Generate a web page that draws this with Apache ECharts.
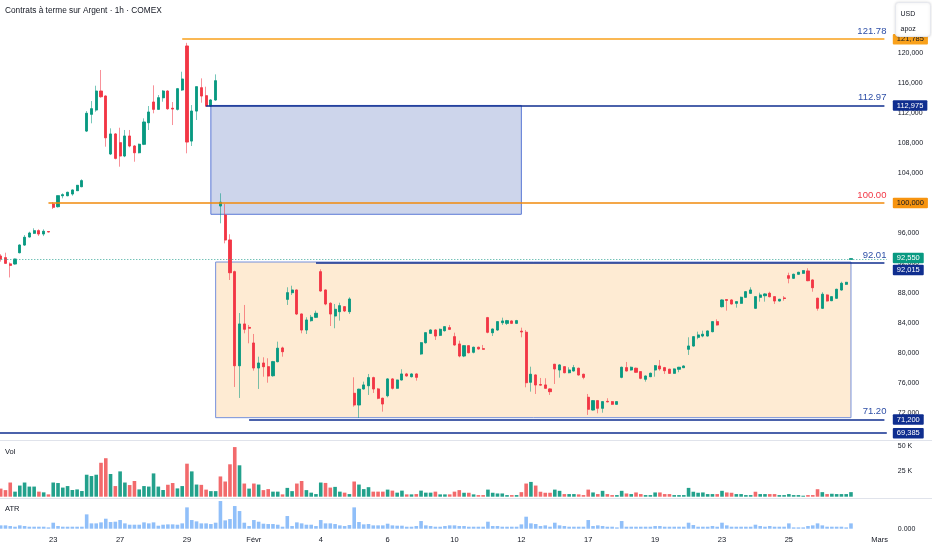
<!DOCTYPE html>
<html><head><meta charset="utf-8">
<script src="https://cdn.jsdelivr.net/npm/echarts@6/dist/echarts.min.js"></script>
<style>html,body{margin:0;padding:0;background:#fff}#c{width:932px;height:550px}</style>
</head><body><div id="c"></div>
<script>
// ---- candles (O,H,L,C) ----
const opens = [
92.95,92.73,91.9,91.89,93.39,94.41,95.48,95.97,96.32,95.88,
96.2,99.87,99.51,100.97,100.97,101.2,101.64,102.17,109.57,111.8,
112.37,114.89,114.23,106.52,109.18,108.02,106.25,108.91,107.58,106.69,
107.81,110.68,113.43,112.46,114.0,114.89,112.6,112.46,115.03,120.88,
108.24,112.23,115.33,114.27,112.9,113.7,99.6,98.4,95.08,90.86,
78.36,83.91,83.45,81.38,78.06,78.72,78.23,77.03,78.9,80.72,
87.19,88.07,88.43,85.24,83.11,84.35,84.8,90.86,88.43,86.66,
84.97,85.55,86.21,85.55,74.69,73.14,75.27,75.7,76.77,75.27,
74.03,74.37,76.6,75.36,76.46,77.26,76.9,77.26,79.92,81.42,
82.67,83.11,82.4,83.02,83.42,82.22,81.25,79.65,81.02,80.15,
80.81,80.62,84.75,82.75,83.11,84.08,84.0,84.31,84.0,82.95,
82.81,76.16,77.13,75.85,75.8,75.27,78.55,77.79,78.23,77.43,
77.66,78.02,77.22,74.16,72.47,73.71,72.7,73.62,73.58,73.23,
76.82,78.1,77.79,78.02,77.57,76.56,76.9,77.79,78.32,78.1,
77.89,77.35,77.89,78.1,80.55,80.98,82.14,82.31,82.31,82.89,
84.22,86.21,87.15,87.1,86.66,86.66,87.46,87.99,86.0,87.46,
87.67,87.99,87.54,86.97,87.37,90.33,89.99,90.52,90.65,90.96,
89.76,87.33,86.0,87.77,87.01,87.33,88.43,89.19,92.5];
const highs = [
93.2,93.39,92.1,92.6,94.5,95.74,96.18,96.64,96.5,96.5,
96.25,100.13,101.0,101.29,101.5,101.8,102.4,103.15,112.23,113.56,
115.6,117.69,114.3,109.93,109.3,110.01,109.71,109.71,107.7,107.9,
111.26,112.9,115.65,114.36,115.03,115.0,113.43,115.3,117.46,121.3,
113.03,115.5,116.58,115.47,113.8,117.11,101.29,99.87,95.84,91.0,
85.37,86.44,83.78,82.58,79.56,79.48,79.35,79.0,81.56,80.89,
88.79,89.0,88.5,85.3,84.8,85.11,85.68,91.18,88.5,86.8,
86.57,86.74,86.3,87.46,76.82,75.3,76.24,77.26,76.9,75.4,
74.1,76.7,76.7,76.5,77.89,77.4,77.35,77.35,81.5,82.8,
83.2,83.2,83.3,83.6,83.78,82.75,81.69,81.1,81.1,80.9,
80.9,81.12,84.85,83.3,84.3,84.75,84.45,84.4,84.45,83.42,
83.11,78.23,77.2,76.73,76.69,75.35,78.6,78.55,78.3,78.15,
78.46,78.1,77.3,74.6,73.8,73.8,73.65,74.03,73.65,73.65,
78.23,78.86,78.25,78.1,77.65,77.05,77.45,78.45,79.12,78.2,
77.95,78.0,78.2,78.4,82.14,82.3,82.89,83.02,83.05,84.3,
84.53,87.2,87.19,87.2,86.95,87.55,88.3,88.79,87.6,88.07,
88.0,88.2,87.6,87.25,87.63,90.73,90.6,90.85,91.05,91.32,
89.85,87.4,88.13,87.85,87.6,88.6,89.53,89.5,92.65];
const lows = [
92.2,91.9,90.1,91.8,93.3,94.3,95.4,95.9,95.61,95.6,
96.1,99.2,99.4,100.62,100.9,100.97,101.6,102.1,109.44,110.6,
112.14,114.0,107.49,106.38,105.8,104.83,106.1,107.41,105.49,106.6,
107.7,109.71,111.93,112.37,113.47,112.4,110.37,112.3,114.9,106.61,
107.58,111.04,113.34,112.8,112.8,113.6,97.3,94.64,89.76,75.53,
74.07,82.67,81.34,77.7,75.27,76.9,76.1,76.9,78.8,79.56,
86.44,87.77,85.1,82.67,82.58,84.22,84.7,88.2,86.4,83.64,
83.34,84.35,85.5,85.24,72.91,71.41,75.2,74.47,74.73,73.9,
72.25,74.16,75.2,75.3,76.4,76.9,76.8,76.37,79.8,81.3,
82.6,81.78,82.3,82.9,83.1,81.02,79.48,79.5,80.0,80.0,
80.5,80.5,82.67,82.31,83.0,83.78,83.78,83.9,83.9,82.14,
75.49,74.91,74.6,75.7,75.3,74.47,75.93,76.77,77.35,77.35,
77.6,77.05,76.56,71.81,72.4,72.03,72.11,73.5,73.15,73.15,
76.69,77.6,77.7,77.4,76.56,76.24,76.85,76.9,77.7,77.26,
77.3,77.3,77.49,78.05,79.79,80.9,81.88,82.14,82.25,82.8,
83.7,86.1,85.68,86.5,86.08,86.6,87.4,87.9,85.9,86.88,
86.88,87.45,86.57,86.9,87.0,89.32,89.9,90.45,90.6,89.6,
88.2,85.68,85.9,86.9,86.95,87.25,88.35,89.1,92.45];
const closes = [
92.55,91.98,91.7,92.55,94.41,95.44,96.01,96.32,95.88,96.24,
96.15,99.43,100.97,101.1,101.42,101.73,102.35,102.97,111.93,112.54,
114.89,114.14,108.68,109.18,105.94,106.25,108.91,107.58,106.69,107.81,
110.77,112.1,112.46,114.0,114.89,112.54,112.5,115.2,116.49,108.11,
112.23,115.47,114.23,112.9,113.7,116.26,100.1,95.08,90.73,78.36,
83.91,83.21,83.35,78.06,78.72,78.23,76.99,78.9,80.68,80.23,
88.07,88.43,85.24,83.11,84.44,84.8,85.33,88.3,86.57,85.24,
85.86,86.34,85.64,87.23,73.14,75.23,75.8,76.77,75.27,74.03,
73.27,76.6,75.36,76.46,77.26,77.0,77.26,76.82,81.42,82.75,
83.11,82.31,83.2,83.55,83.2,81.12,79.65,81.02,80.09,80.81,
80.59,80.55,82.81,83.24,84.22,84.31,84.35,84.0,84.35,82.85,
76.1,77.22,75.8,75.78,75.36,74.91,77.93,78.46,77.43,77.79,
78.1,77.13,76.82,72.57,73.71,72.7,73.58,73.55,73.23,73.58,
78.15,77.66,78.15,77.49,76.69,76.99,77.35,78.36,77.93,77.7,
77.35,77.93,78.15,78.32,80.98,82.22,82.45,82.54,82.98,84.22,
83.78,87.1,87.05,86.57,86.88,87.46,88.2,88.43,87.54,87.77,
87.9,87.54,86.97,87.19,87.3,89.99,90.52,90.78,91.0,89.67,
88.74,86.0,87.86,86.97,87.54,88.52,89.32,89.45,92.6];

// ---- volume (thousands) ----
const volumes = [
8,6.5,14,5,11,14,10,10,5,4.3,
2.3,14,13.5,9,10.5,6.6,7.2,5.6,21.7,20.4,
21.7,33.5,38,22.4,10.5,25,14,11.5,15.5,7.2,
10.5,10,23,10,6.6,11.8,13.5,8.2,10.5,32.6,
25,12,11.7,7,5.5,5.5,20,15,32,49,
31,13,8,13,12,6.5,7.5,5,5,2.3,
8.7,5.5,13,15.5,6.5,4,2.6,14,13.6,9,
9.7,5,4,2.6,15,12,7.5,9.4,5,5,
5,7,6,4,6,2.3,2.3,2.6,6,4,
4,5,2.3,2.3,2.3,5,6.5,3.9,3.9,2.3,
1.6,1.6,7,3.9,3.2,3.2,1.6,1.6,1.6,4.5,
13,14.6,11,4.9,3.9,3.9,7,5.8,2.6,2.6,
2.6,2.3,1.6,7,4.2,2.6,5.8,2.6,1.6,1.6,
5.8,3.2,2.6,4.2,2.6,1.6,1.6,4.2,4.2,2.6,
2.6,1.6,1.6,1.6,8.7,4.9,3.9,4.2,2.6,2.6,
2.6,5.8,4.2,3.9,2.6,2.6,1.6,1.6,4.9,2.6,
2.6,2.6,2.6,1.6,1.6,2.6,1.6,1.6,1,1.6,
1.6,7.4,4.5,2.6,2.9,2.6,2.6,2.6,4.5];

// ---- ATR ----
const atrValues = [
0.5,0.5,0.4,0.3,0.5,0.4,0.3,0.3,0.3,0.3,
0.2,0.9,0.4,0.3,0.3,0.3,0.3,0.3,2.15,0.8,
0.8,0.95,1.5,1.0,1.05,1.3,0.8,0.6,0.6,0.6,
0.95,0.8,0.95,0.45,0.6,0.65,0.65,0.6,0.8,3.2,
1.3,1.1,0.8,0.8,0.7,0.9,4.15,1.25,1.45,3.4,
2.65,0.9,0.4,1.3,1.05,0.75,0.7,0.7,0.6,0.3,
1.9,0.4,0.95,0.8,0.6,0.6,0.4,1.3,0.8,0.8,
0.7,0.5,0.4,0.55,3.2,1.0,0.65,0.7,0.5,0.5,
0.5,0.75,0.5,0.45,0.45,0.3,0.3,0.4,1.15,0.5,
0.4,0.3,0.3,0.4,0.5,0.5,0.4,0.4,0.3,0.3,
0.3,0.3,1.05,0.4,0.4,0.3,0.3,0.3,0.3,0.65,
1.8,0.8,0.7,0.4,0.5,0.3,0.9,0.5,0.4,0.3,
0.3,0.3,0.3,1.3,0.4,0.5,0.4,0.3,0.3,0.2,
1.15,0.3,0.3,0.3,0.3,0.3,0.3,0.4,0.4,0.3,
0.3,0.3,0.3,0.3,0.9,0.55,0.3,0.3,0.3,0.4,
0.3,0.9,0.5,0.3,0.3,0.3,0.3,0.3,0.6,0.4,
0.3,0.4,0.3,0.3,0.3,0.8,0.2,0.2,0.2,0.4,
0.5,0.8,0.5,0.3,0.3,0.3,0.3,0.2,0.8];

// ---- time axis ----
const slotCount = 186;
const dateLabelIndex = [11,25,39,53,67,81,95,109,123,137,151,165,184];
const dateLabelText = ['23','27','29','Févr','4','6','10','12','17','19','23','25','Mars'];

// ---- drawings ----
const levelPrice = [121.785, 112.975, 100.0, 92.015, 71.2];
const levelText  = ['121.78', '112.97', '100.00', '92.01', '71.20'];
const levelFrom  = [38, 43, 10, 66, 52];
const levelKind  = ['amber', 'navy', 'orange', 'navy', 'navy'];
const supportLevel = 69.385;
const lastPrice = 92.55;
const boxFrom = [44, 45];
const boxTo   = [109, 178];
const boxHigh = [112.975, 92.15];
const boxLow  = [98.5, 71.45];
const boxKind = ['blue', 'beige'];
const hiddenAxisValues = [124];

// ---- styles ----
const UP = '#089981', DOWN = '#f23645', NAVY = '#0f2e8f';
const kindStyle = {
  amber:  {line: '#f9a11b', text: '#2d4ea6', tagBg: '#f9a11b', tagText: '#131722'},
  orange: {line: '#f08a0c', text: '#f23645', tagBg: '#f7940f', tagText: '#131722'},
  navy:   {line: NAVY,      text: '#2d4ea6', tagBg: NAVY,      tagText: '#ffffff'}
};
const boxStyle = {
  blue:  {color: '#cdd5eb', borderColor: '#5b79d6'},
  beige: {color: '#feebd3', borderColor: '#7590dc'}
};
const FONT = 'Liberation Sans, Arial, sans-serif';
const fmtTag = v => v.toFixed(3).replace('.', ',');

const categories = Array.from({length: slotCount}, (_, i) => String(i));
const candleData = opens.map((o, i) => [o, closes[i], lows[i], highs[i]]);
const bodyData = opens.map((o, i) => [o, closes[i], Math.min(o, closes[i]), Math.max(o, closes[i])]);
const volData = volumes.map((v, i) => {
  const prev = i > 0 ? closes[i - 1] : opens[i];
  const up = closes[i] >= prev;
  return {value: v, itemStyle: {color: up ? '#23a18c' : '#f26a6c'}};
});

const markAreaData = boxFrom.map((f, k) => [
  {coord: [f, boxHigh[k]], itemStyle: {color: boxStyle[boxKind[k]].color, borderColor: boxStyle[boxKind[k]].borderColor, borderWidth: 1}},
  {coord: [boxTo[k], boxLow[k]]}
]);

const tagLabel = (v, kind, dy) => ({
  yAxis: v,
  lineStyle: {color: 'rgba(0,0,0,0)', width: 0},
  label: {show: true, position: 'end', distance: 6, offset: [0, dy || 0],
    formatter: () => fmtTag(v), fontSize: 7.5, fontFamily: FONT,
    color: kindStyle[kind].tagText, backgroundColor: kindStyle[kind].tagBg,
    padding: [1.5, 4, 1, 4], borderRadius: 1}
});

const markLineData = [];
levelPrice.forEach((p, k) => {
  const st = kindStyle[levelKind[k]];
  markLineData.push([
    {coord: [levelFrom[k], p], lineStyle: {color: st.line, width: 1.6, type: 'solid'},
     label: {show: true, position: 'insideEndTop', distance: [-2, 3], formatter: levelText[k],
             color: st.text, fontSize: 9.5, fontFamily: FONT}},
    {coord: [slotCount - 1, p]}
  ]);
});
markLineData.push({yAxis: supportLevel, lineStyle: {color: NAVY, width: 1.6, type: 'solid'}, label: {show: false}});
markLineData.push({yAxis: lastPrice, lineStyle: {color: '#3aa99a', width: 1, type: [1, 2]}, label: {show: false}});
markLineData.push(tagLabel(levelPrice[0], 'amber'));
markLineData.push(tagLabel(levelPrice[1], 'navy'));
markLineData.push(tagLabel(levelPrice[2], 'orange'));
markLineData.push(tagLabel(levelPrice[3], 'navy', 7));
markLineData.push(tagLabel(levelPrice[4], 'navy'));
markLineData.push(tagLabel(supportLevel, 'navy'));
markLineData.push({yAxis: lastPrice, lineStyle: {color: 'rgba(0,0,0,0)', width: 0},
  label: {show: true, position: 'end', distance: 6, offset: [0, -1], formatter: () => fmtTag(lastPrice),
    fontSize: 7.5, fontFamily: FONT, color: '#fff', backgroundColor: UP, padding: [1.5, 4, 1, 4], borderRadius: 1}});

const G = {left: -1.7, right: 45.2, outerBoundsMode: 'none', containLabel: false};
const axisLbl = {fontSize: 7, color: '#131722', fontFamily: FONT, margin: 11};
const hideAxis = {axisLine: {show: false}, axisTick: {show: false}, splitLine: {show: false}};

const option = {
  animation: false,
  backgroundColor: '#ffffff',
  textStyle: {fontFamily: FONT},
  title: [
    {text: 'Contrats à terme sur Argent · 1h · COMEX', left: 5, top: 7, padding: 0,
     textStyle: {fontSize: 8.3, fontWeight: 'normal', color: '#131722', fontFamily: FONT}},
    {text: 'Vol', left: 5, top: 448, padding: 0, textStyle: {fontSize: 7.5, fontWeight: 'normal', color: '#131722', fontFamily: FONT}},
    {text: 'ATR', left: 5, top: 505, padding: 0, textStyle: {fontSize: 7.5, fontWeight: 'normal', color: '#131722', fontFamily: FONT}}
  ],
  grid: [
    Object.assign({top: 0, height: 443.6}, G),
    Object.assign({top: 441, height: 55.7}, G),
    Object.assign({top: 499, height: 29.7}, G)
  ],
  xAxis: [0, 1, 2].map(k => Object.assign({
    type: 'category', gridIndex: k, data: categories, boundaryGap: true,
    axisLabel: {show: k === 2, interval: 0, fontSize: 7.5, color: '#131722', fontFamily: FONT, margin: 7,
      formatter: (val, idx) => { const p = dateLabelIndex.indexOf(idx); return p >= 0 ? dateLabelText[p] : ''; }}
  }, hideAxis)),
  yAxis: [
    Object.assign({type: 'value', gridIndex: 0, position: 'right', min: 68, max: 127, interval: 4,
      axisLabel: Object.assign({showMinLabel: false, showMaxLabel: false,
        formatter: v => hiddenAxisValues.includes(v) ? '' : fmtTag(v)}, axisLbl)}, hideAxis),
    Object.assign({type: 'value', gridIndex: 1, position: 'right', min: 0, max: 55, interval: 25,
      axisLabel: Object.assign({showMinLabel: false, showMaxLabel: false, formatter: v => v + ' K'}, axisLbl)}, hideAxis),
    Object.assign({type: 'value', gridIndex: 2, position: 'right', min: 0, max: 4.455, interval: 5,
      axisLabel: Object.assign({showMaxLabel: false, formatter: v => v.toFixed(3)}, axisLbl)}, hideAxis)
  ],
  graphic: [
    {type: 'line', shape: {x1: 0, y1: 440.5, x2: 932, y2: 440.5}, style: {stroke: '#e0e3eb', lineWidth: 1}, z: 50},
    {type: 'line', shape: {x1: 0, y1: 498.5, x2: 932, y2: 498.5}, style: {stroke: '#e0e3eb', lineWidth: 1}, z: 50},
    {type: 'group', left: 895, top: 2, z: 100, children: [
      {type: 'rect', z: 100, shape: {x: 0, y: 0, width: 35, height: 34, r: 3},
       style: {fill: '#ffffff', stroke: '#e6e8ee', lineWidth: 1, shadowBlur: 3, shadowColor: 'rgba(0,0,0,0.12)'}},
      {type: 'text', z: 101, x: 5, y: 8, style: {text: 'USD', fontSize: 7, fill: '#131722', fontFamily: FONT}},
      {type: 'text', z: 101, x: 5, y: 23, style: {text: 'apoz', fontSize: 7, fill: '#131722', fontFamily: FONT}}
    ]}
  ],
  series: [
    {type: 'line', name: 'zones', xAxisIndex: 0, yAxisIndex: 0, data: [], z: 1, clip: false, silent: true,
     markArea: {silent: true, z: 1, label: {show: false}, data: markAreaData}},
    {type: 'candlestick', name: 'wicks', xAxisIndex: 0, yAxisIndex: 0, data: candleData, z: 3, clip: false,
     barWidth: 2.6, silent: true,
     itemStyle: {color: 'rgba(8,153,129,0.5)', color0: 'rgba(242,54,69,0.5)',
                 borderColor: 'rgba(8,153,129,0.55)', borderColor0: 'rgba(242,54,69,0.55)', borderWidth: 1}},
    {type: 'candlestick', name: 'SI', xAxisIndex: 0, yAxisIndex: 0, data: bodyData, z: 4, clip: false,
     barWidth: 2.6,
     itemStyle: {color: UP, color0: DOWN, borderColor: UP, borderColor0: DOWN, borderWidth: 0.6}},
    {type: 'line', name: 'levels', xAxisIndex: 0, yAxisIndex: 0, data: [], z: 5, clip: false, silent: true,
     markLine: {silent: true, z: 5, symbol: ['none', 'none'], animation: false, data: markLineData}},
    {type: 'bar', name: 'Vol', xAxisIndex: 1, yAxisIndex: 1, data: volData, barWidth: 3.6},
    {type: 'bar', name: 'ATR', xAxisIndex: 2, yAxisIndex: 2, data: atrValues, barWidth: 3.6,
     itemStyle: {color: '#90bff9'}}
  ]
};
echarts.init(document.getElementById('c'), null, {renderer: 'canvas'}).setOption(option);
</script>
</body></html>
